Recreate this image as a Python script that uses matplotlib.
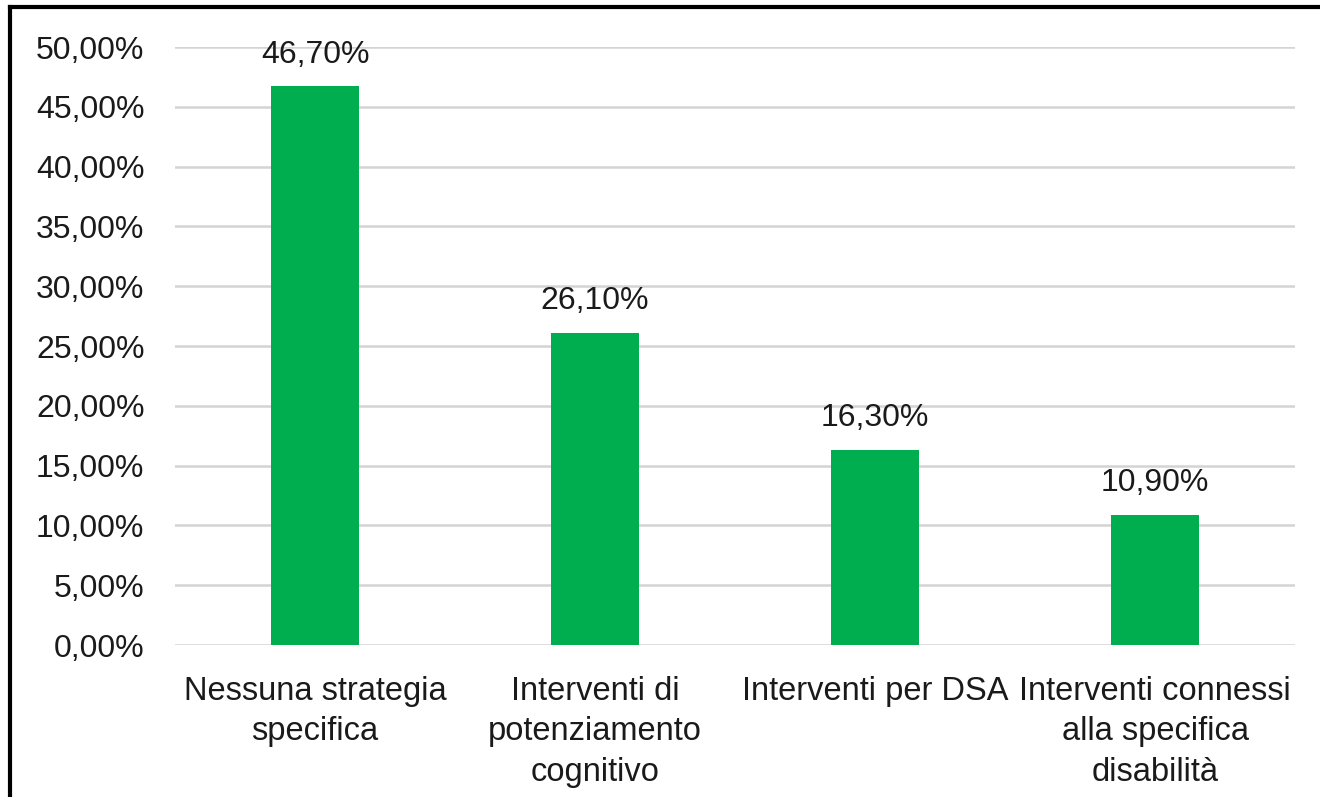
import matplotlib.pyplot as plt
from matplotlib.lines import Line2D
from matplotlib.ticker import FuncFormatter

plt.rcParams['font.family'] = ['Liberation Sans', 'DejaVu Sans']

categories = [
    "Nessuna strategia\nspecifica",
    "Interventi di\npotenziamento\ncognitivo",
    "Interventi per DSA",
    "Interventi connessi\nalla specifica\ndisabilità",
]
values = [46.7, 26.1, 16.3, 10.9]
yticks = [0, 5, 10, 15, 20, 25, 30, 35, 40, 45, 50]


def it_pct(v, pos=None):
    return f"{v:.2f}".replace(".", ",") + "%"


fig = plt.figure(figsize=(13.2, 7.97), dpi=100)
ax = fig.add_axes([0.1326, 0.1907, 0.8485, 0.7503])

x = range(len(categories))
bars = ax.bar(x, values, width=0.315, color="#00AD4F", zorder=3)

for b, v in zip(bars, values):
    ax.annotate(it_pct(v), (b.get_x() + b.get_width() / 2, v),
                xytext=(0, 12), textcoords="offset points",
                ha="center", va="bottom", fontsize=23, color="#1a1a1a")

ax.set_xlim(-0.5, len(categories) - 0.5)
ax.set_ylim(0, 50)
ax.set_yticks(yticks)
ax.yaxis.set_major_formatter(FuncFormatter(it_pct))
ax.grid(axis="y", color="#d4d4d4", linewidth=1.8, zorder=0)

ax.set_xticks(list(x))
ax.set_xticklabels(categories, fontsize=23.5, color="#1a1a1a", linespacing=1.4)
ax.tick_params(axis="y", labelsize=23, labelcolor="#1a1a1a", length=0, pad=22)
ax.tick_params(axis="x", length=0, pad=22)
for s in ax.spines.values():
    s.set_visible(False)

# frame lines along the top and left edge
fig.add_artist(Line2D([10 / 1320, 1.0], [1 - 7 / 797, 1 - 7 / 797],
                      transform=fig.transFigure, color="black", linewidth=3))
fig.add_artist(Line2D([10 / 1320, 10 / 1320], [0, 1 - 7 / 797],
                      transform=fig.transFigure, color="black", linewidth=3))

fig.savefig("out.png", dpi=100)
